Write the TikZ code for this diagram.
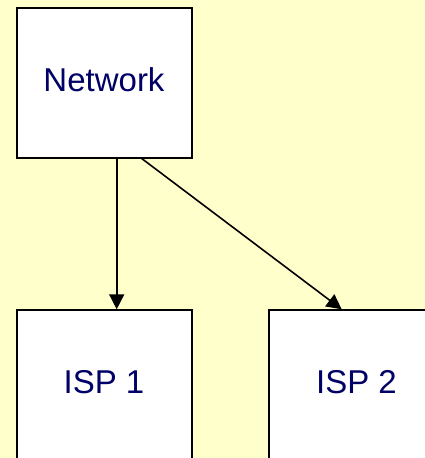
\documentclass[tikz,border=0pt]{standalone}
\usepackage{fontspec}
\setmainfont{Liberation Sans}
\usetikzlibrary{arrows.meta}
\definecolor{paper}{RGB}{255,255,204}
\definecolor{ink}{RGB}{0,0,102}
\tikzset{
  box/.style={draw=black, fill=white, line width=2pt, inner sep=0pt,
    minimum width=175pt, minimum height=150pt,
    text height=24pt, text depth=7pt,
    font=\fontsize{33}{36}\selectfont, text=ink},
  arr/.style={draw=black, line width=1.6pt,
    -{Triangle[length=15pt,width=15pt]}, shorten >=0pt}
}
\begin{document}
\begin{tikzpicture}[x=1pt,y=-1pt]
  \useasboundingbox (0,0) rectangle (425,458);
  \clip (0,0) rectangle (425,458);
  \fill[paper] (0,0) rectangle (425,458);
  \node[box] (net)  at (104,82.5)  {Network};
  \node[box] (isp1) at (104,385.3) {ISP 1};
  \node[box] (isp2) at (356.5,385.3) {ISP 2};
  \draw[arr] ([xshift=12.7pt]net.south) -- ([xshift=12.7pt]isp1.north);
  \draw[arr] ([xshift=37.7pt]net.south) -- ([xshift=-14.8pt]isp2.north);
\end{tikzpicture}
\end{document}
